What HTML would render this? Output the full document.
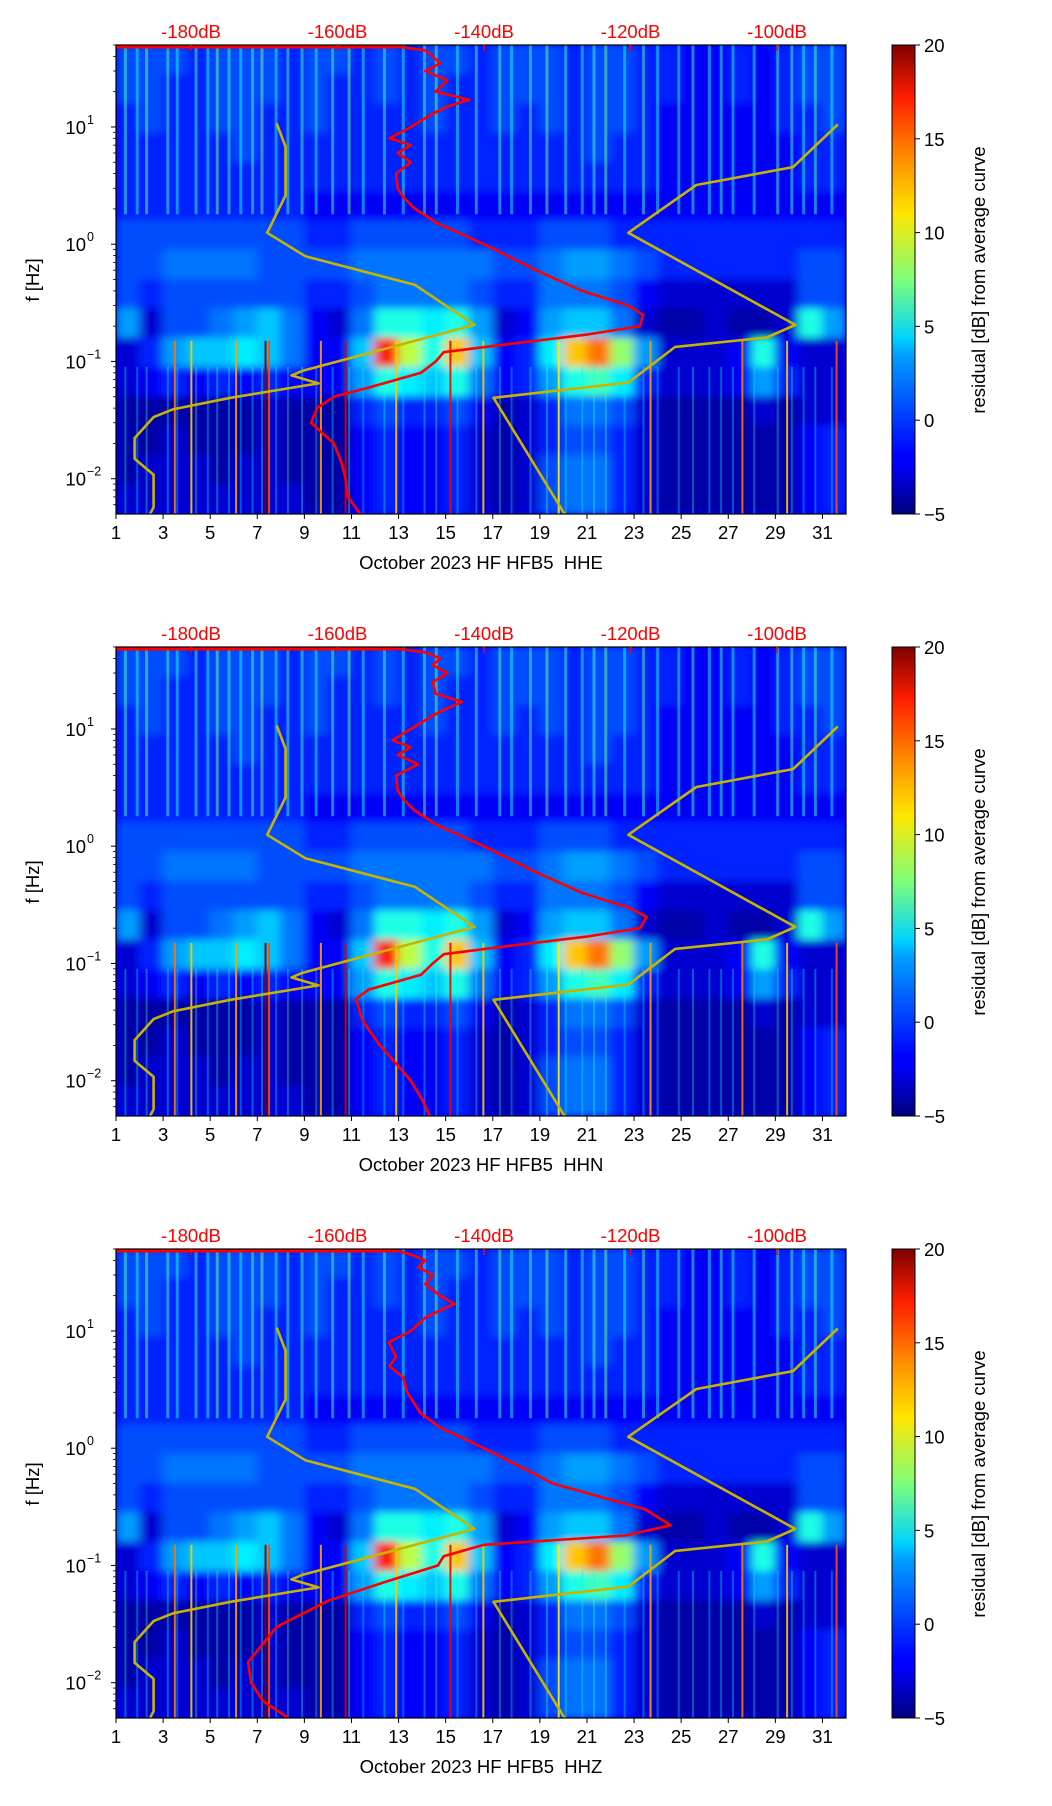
<!DOCTYPE html>
<html><head><meta charset="utf-8"><style>
html,body{margin:0;padding:0;background:#fff;width:1052px;height:1806px;overflow:hidden;}
svg{display:block;font-family:"Liberation Sans","DejaVu Sans",sans-serif;}
</style></head><body>
<svg id="fig" width="1052" height="1806" viewBox="0 0 1052 1806" xmlns="http://www.w3.org/2000/svg">
<defs>
<linearGradient id="jetgrad" x1="0" y1="1" x2="0" y2="0">
<stop offset="0" stop-color="#00007f"/><stop offset="0.11" stop-color="#0000ff"/><stop offset="0.125" stop-color="#0000ff"/>
<stop offset="0.34" stop-color="#00a0ff"/><stop offset="0.375" stop-color="#00d4ff"/><stop offset="0.5" stop-color="#7dff7a"/>
<stop offset="0.64" stop-color="#ffe600"/><stop offset="0.75" stop-color="#ff9400"/><stop offset="0.89" stop-color="#ff1d00"/><stop offset="1" stop-color="#7f0000"/>
</linearGradient>
<filter id="soft" x="-5%" y="-5%" width="110%" height="110%"><feGaussianBlur stdDeviation="5 4"/></filter>
</defs>
</svg>
<script>
// ---- data ----
const days = [1,3,5,7,9,11,13,15,17,19,21,23,25,27,29,31];
const dbLabels = [-180,-160,-140,-120,-100];
const cbTicks = [20,15,10,5,0,-5];
const channels = ["HHE","HHN","HHZ"];
const hm0  = [0,0,0,-1,0,0,0,-1,0,0,-1,0,-1,0,0,-1,0,0,0,-1,0,0,-1,-1,-2,-2,-1,-2,-1,0,0];
const hm1  = [0,0,-1,-1,0,0,0,-1,0,-1,-1,0,-1,0,-1,-1,0,0,0,-1,0,0,-1,-1,-2,-2,-1,-2,-1,0,0];
const hm2  = [-1,0,-1,-1,0,0,-1,-1,0,-1,-1,-1,-1,0,-1,-1,0,-1,0,-1,0,0,-1,-2,-2,-2,-2,-2,-1,-1,0];
const hm3  = [-1,-1,-1,-1,-1,0,-1,-1,-1,-1,-1,-1,-1,-1,-1,-1,-1,-1,-1,-1,0,-1,-1,-2,-2,-2,-2,-2,-2,-1,-1];
const hm4  = [-1,-1,-1,-1,-1,-1,-1,-1,-1,-1,-1,-1,-1,-1,-1,-1,-1,-1,-1,-1,-1,-1,-1,-2,-2,-2,-2,-2,-2,-1,-1];
const hm5  = [-1,-1,-1,-1,-1,-1,-1,-1,-2,-2,-2,-2,-2,-2,-2,-2,-2,-2,-2,-2,-2,-2,-2,-2,-2,-2,-2,-2,-2,-2,-2];
const hm6  = [0,0,0,0,0,0,0,0,-1,-1,0,0,0,0,0,-1,-1,-1,0,0,0,-1,-1,-1,-1,-1,-1,-1,-1,-1,-1];
const hm7  = [0,0,1,1,1,1,0,0,0,0,1,1,1,1,1,1,0,0,1,2,2,1,0,-1,-1,-1,-1,-1,-1,0,0];
const hm8  = [0,-1,0,0,0,0,0,0,-1,-1,0,1,1,1,1,0,-1,-1,1,1,1,0,-2,-3,-3,-3,-3,-3,-3,0,0];
const hm9  = [2,-3,0,0,1,2,3,1,-2,-3,1,5,5,4,5,2,-3,-2,2,3,3,1,-3,-4,-4,-3,-4,-4,-3,5,2];
const hm10 = [-3,-1,2,3,3,4,3,1,-2,-2,3,16,9,5,12,3,-2,-1,4,12,14,8,2,-3,-3,-3,-2,5,-2,-3,-3];
const hm11 = [-3,-2,-1,-2,-1,-2,-1,-2,-2,-2,2,5,4,3,5,1,-2,-1,2,5,6,4,-1,-3,-3,-3,-2,2,-1,-3,-3];
const hm12 = [-4,-4,-4,-4,-4,-4,-3,-4,-4,-4,-1,0,-1,-1,0,-2,-4,-3,-1,1,1,0,-3,-4,-4,-4,-4,-3,-4,-3,-3];
const hm13 = [-4,-4,-3,-4,-4,-4,-3,-4,-4,-4,-2,-1,-2,-2,-1,-3,-4,-3,-1,0,0,-1,-3,-4,-4,-4,-4,-4,-4,-2,-1];
const hm14 = [-4,-3,-3,-3,-4,-3,-3,-4,-4,-4,-2,-1,-2,-2,-1,-3,-4,-3,0,1,1,-1,-3,-4,-4,-4,-4,-4,-4,-2,-1];
const hm15 = [-3,-3,-3,-3,-3,-3,-3,-3,-4,-4,-2,-1,-2,-2,-1,-3,-4,-3,0,1,1,-1,-3,-4,-4,-4,-4,-4,-4,-2,-1];
const hmRows = [hm0,hm1,hm2,hm3,hm4,hm5,hm6,hm7,hm8,hm9,hm10,hm11,hm12,hm13,hm14,hm15];
const stripeDays = [1.4,1.9,2.3,3.2,3.6,4.4,4.9,5.3,5.8,6.3,6.8,7.2,7.8,8.3,8.9,9.5,10.2,10.9,11.5,12.4,13.2,14.1,14.6,15.5,16.3,17.3,17.8,18.6,19.3,20.1,20.8,21.3,21.8,22.6,23.4,24.0,24.9,25.5,26.2,26.7,27.2,28.1,29.1,29.7,30.2,30.7,31.4];
const stripeVals = [6,5,7,6,5,6,5,7,6,5,6,7,5,6,6,5,6,7,5,6,5,6,7,5,6,6,5,6,7,6,5,6,7,5,6,5,5,6,5,6,5,5,6,6,5,6,5];
const spikeDays = [3.5,4.2,6.1,7.35,7.5,9.7,10.75,12.9,15.2,16.6,19.8,23.7,27.6,29.5,31.6];
const spikeVals = [14,12,13,20,15,13,18,12,17,12,11,13,14,12,15];
const psdF0 = [50,48.5,45,40,35,30,25,20,17,15,13,10,8,7,6,5,4,3,2.5,2,1.5,1,0.6,0.4,0.3,0.25,0.2,0.17,0.14,0.12,0.1,0.08,0.06,0.05,0.04,0.03,0.02,0.014,0.01,0.007,0.005];
const psdD0 = [-190,-152,-148,-147,-146,-148,-145,-146.6,-142,-144.9,-147,-150,-152.9,-150,-151.8,-150,-152,-151.8,-151,-149.4,-146.3,-140,-132.9,-126.6,-120.3,-118.3,-118.7,-125.8,-136.9,-145.5,-146.6,-148.6,-155.7,-160.5,-162.8,-163.6,-160.5,-159.5,-158.9,-158.6,-156.9];
const psdF1 = [50,48.5,45,40,35,30,25,20,17,15,13,10,8,7,6,5,4,3,2.5,2,1.5,1,0.6,0.4,0.3,0.25,0.2,0.17,0.14,0.12,0.1,0.08,0.06,0.05,0.04,0.035,0.03,0.02,0.014,0.01,0.007,0.005];
const psdD1 = [-190,-152,-148,-146,-147,-145,-147,-146.6,-143,-145,-147,-150,-152.5,-150,-151.8,-149,-152,-151.8,-151,-149.4,-146.3,-140,-132.9,-126.6,-120.3,-117.8,-118.7,-125.8,-137,-145.5,-147,-148.6,-155.7,-157.5,-157,-156.8,-156.2,-154.2,-152,-150,-148.5,-147.4];
const psdF2 = [50,48.5,45,40,35,30,25,20,17,15,13,10,8,6,5,4,3,2,1.5,1,0.5,0.3,0.22,0.18,0.15,0.12,0.1,0.07,0.05,0.03,0.015,0.01,0.007,0.005];
const psdD2 = [-190,-152,-150,-148,-149,-147,-148,-146,-144,-146,-148,-150,-153,-152,-152.9,-151,-150.5,-148.7,-146,-140,-130.6,-118,-114.5,-120.7,-140,-145.5,-146.3,-154.2,-161.3,-168.3,-172.2,-171.8,-170.2,-166.7];
const nlnmF = [10.7,6.8,2.6,1.25,0.79,0.45,0.205,0.083,0.076,0.065,0.049,0.039,0.0335,0.0222,0.0148,0.0108,0.0057,0.005];
const nlnmD = [-168.3,-167.1,-167.1,-169.6,-164.4,-149.4,-141.3,-164.8,-166.3,-162.6,-174.6,-182.5,-185.1,-187.7,-187.7,-185.1,-185.1,-185.6];
const nhnmF = [10.5,4.55,3.2,1.25,0.205,0.16,0.133,0.066,0.049,0.005];
const nhnmD = [-91.7,-97.8,-111.0,-120.3,-97.5,-101.4,-113.9,-120.3,-138.7,-129.0];

const NS = "http://www.w3.org/2000/svg";
const svg = document.getElementById("fig");
const X0 = 116, X1 = 846, H = 469, DEC = 117.25, LTOP = 1.699, FS = 18.5;
const panelTops = [45, 647, 1249];
const xDay = d => X0 + (d - 1) * (X1 - X0) / 31;
const xDb = db => 191 + (db + 180) * 7.325;
const yF = (f, oy) => oy + (LTOP - Math.log10(f)) * DEC;
function jet(v){
  const t = Math.max(0, Math.min(1, (v + 5) / 25));
  const c = x => Math.round(255 * Math.max(0, Math.min(1, x)));
  return `rgb(${c(1.5 - Math.abs(4*t - 3))},${c(1.5 - Math.abs(4*t - 2))},${c(1.5 - Math.abs(4*t - 1))})`;
}
function el(tag, attrs, parent, text){
  const e = document.createElementNS(NS, tag);
  for (const k in attrs) e.setAttribute(k, attrs[k]);
  if (text !== undefined) e.textContent = text;
  (parent || svg).appendChild(e);
  return e;
}
const psdFs = [psdF0, psdF1, psdF2], psdDs = [psdD0, psdD1, psdD2];

panelTops.forEach((oy, p) => {
  const g = el("g", {});
  
  
  const clip = el("clipPath", {id: "clip" + p}, g);
  el("rect", {x: X0, y: oy, width: X1 - X0, height: H}, clip);
  const hg = el("g", {"clip-path": `url(#clip${p})`}, g);
  
  
  el("rect", {x: X0, y: oy, width: X1 - X0, height: H, fill: jet(-2)}, hg);
  const blur = el("g", {filter: "url(#soft)"}, hg);
  hmRows.forEach((row, r) => {
    const fTop = Math.pow(10, LTOP - r * 0.25), fBot = Math.pow(10, LTOP - (r + 1) * 0.25);
    row.forEach((v, c) => {
      const cell = el("rect", {x: xDay(c + 1) - 0.5, y: yF(fTop, oy) - 0.5, width: xDay(c + 2) - xDay(c + 1) + 1, height: yF(fBot, oy) - yF(fTop, oy) + 1, fill: jet(v)}, blur);
      
      
    });
  });
  stripeDays.forEach((d, i) => {
    const s = el("rect", {x: xDay(d) - 1.5, y: oy, width: 3, height: yF(1.8, oy) - oy, fill: jet(stripeVals[i]), opacity: 0.5}, hg);
    
    
    const s2 = el("rect", {x: xDay(d) - 1, y: yF(0.09, oy), width: 2, height: H, fill: jet(stripeVals[i] - 1), opacity: 0.35}, hg);
    
    
  });
  spikeDays.forEach((d, i) => {
    const s = el("rect", {x: xDay(d) - 1, y: yF(0.15, oy), width: 2, height: H, fill: jet(spikeVals[i]), opacity: 0.9}, hg);
    
    
  });
  [[nlnmF, nlnmD, 'nlnm-curve'], [nhnmF, nhnmD, 'nhnm-curve']].forEach(([fs, ds, nm]) => {
    const pts = fs.map((f, i) => `${xDb(ds[i]).toFixed(1)},${yF(f, oy).toFixed(1)}`).join(" ");
    const pl = el("polyline", {points: pts, fill: "none", stroke: "#c8b400", "stroke-width": 2.6, "stroke-linejoin": "round"}, hg);
    
    
  });
  const fs = psdFs[p], ds = psdDs[p];
  const pts = fs.map((f, i) => `${xDb(ds[i]).toFixed(1)},${yF(f, oy).toFixed(1)}`).join(" ");
  const pl = el("polyline", {points: pts, fill: "none", stroke: "#ff0000", "stroke-width": 2.6, "stroke-linejoin": "round"}, hg);
  
  
  const topLine = el("line", {x1: X0, x2: xDb(ds[1]), y1: oy + 2, y2: oy + 2, stroke: "#ff0000", "stroke-width": 3}, hg);
  
  
  const fr = el("rect", {x: X0, y: oy, width: X1 - X0, height: H, fill: "none", stroke: "#000", "stroke-width": 1.2}, g);
  
  
  days.forEach(d => {
    el("line", {x1: xDay(d), x2: xDay(d), y1: oy + H, y2: oy + H + 5, stroke: "#000", "stroke-width": 1}, g);
    const t = el("text", {x: xDay(d), y: oy + H + 25, "font-size": FS, "text-anchor": "middle"}, g, String(d));
    
    
  });
  [-2, -1, 0, 1].forEach(e => {
    const y = yF(Math.pow(10, e), oy);
    el("line", {x1: X0 - 5, x2: X0, y1: y, y2: y, stroke: "#000", "stroke-width": 1}, g);
    const t = el("text", {x: X0 - 30, y: y + 7, "font-size": FS, "text-anchor": "end"}, g, "10");
    
    
    el("text", {x: X0 - 29, y: y - 3, "font-size": 12.5}, g, e < 0 ? "\u2212" + (-e) : String(e));
    for (let m = 2; m <= 9; m++) {
      const f = m * Math.pow(10, e);
      if (f > 50) continue;
      const ym = yF(f, oy);
      el("line", {x1: X0 - 3, x2: X0, y1: ym, y2: ym, stroke: "#000", "stroke-width": 0.8}, g);
    }
  });
  [6, 7, 8, 9].forEach(m => { const ym = yF(m / 1000, oy); el("line", {x1: X0 - 3, x2: X0, y1: ym, y2: ym, stroke: "#000", "stroke-width": 0.8}, g); });
  const yl = el("text", {x: 0, y: 0, "font-size": FS, "text-anchor": "middle", transform: `translate(39,${oy + 235}) rotate(-90)`}, g, "f [Hz]");
  
  
  dbLabels.forEach(db => {
    const t = el("text", {x: xDb(db), y: oy - 7, "font-size": FS, "text-anchor": "middle", fill: "#ff0000"}, g, db + "dB");
    
    
    el("line", {x1: xDb(db), x2: xDb(db), y1: oy, y2: oy + 6, stroke: "#ff0000", "stroke-width": 1.5}, g);
  });
  const xt = el("text", {x: 481, y: oy + H + 55, "font-size": FS, "text-anchor": "middle"}, g, "October 2023 HF HFB5\u00a0 " + channels[p]);
  
  
  const cb = el("rect", {x: 892, y: oy, width: 23, height: H, fill: "url(#jetgrad)", stroke: "#000", "stroke-width": 1}, g);
  
  
  cbTicks.forEach(v => {
    const y = oy + H - (v + 5) / 25 * H;
    el("line", {x1: 915, x2: 920, y1: y, y2: y, stroke: "#000", "stroke-width": 1}, g);
    const t = el("text", {x: 924, y: y + 7, "font-size": FS}, g, v < 0 ? "\u2212" + (-v) : String(v));
    
    
  });
  const cl = el("text", {x: 0, y: 0, "font-size": FS, "text-anchor": "middle", transform: `translate(985,${oy + 235}) rotate(-90)`}, g, "residual [dB] from average curve");
  
  
});
</script>
</body></html>
